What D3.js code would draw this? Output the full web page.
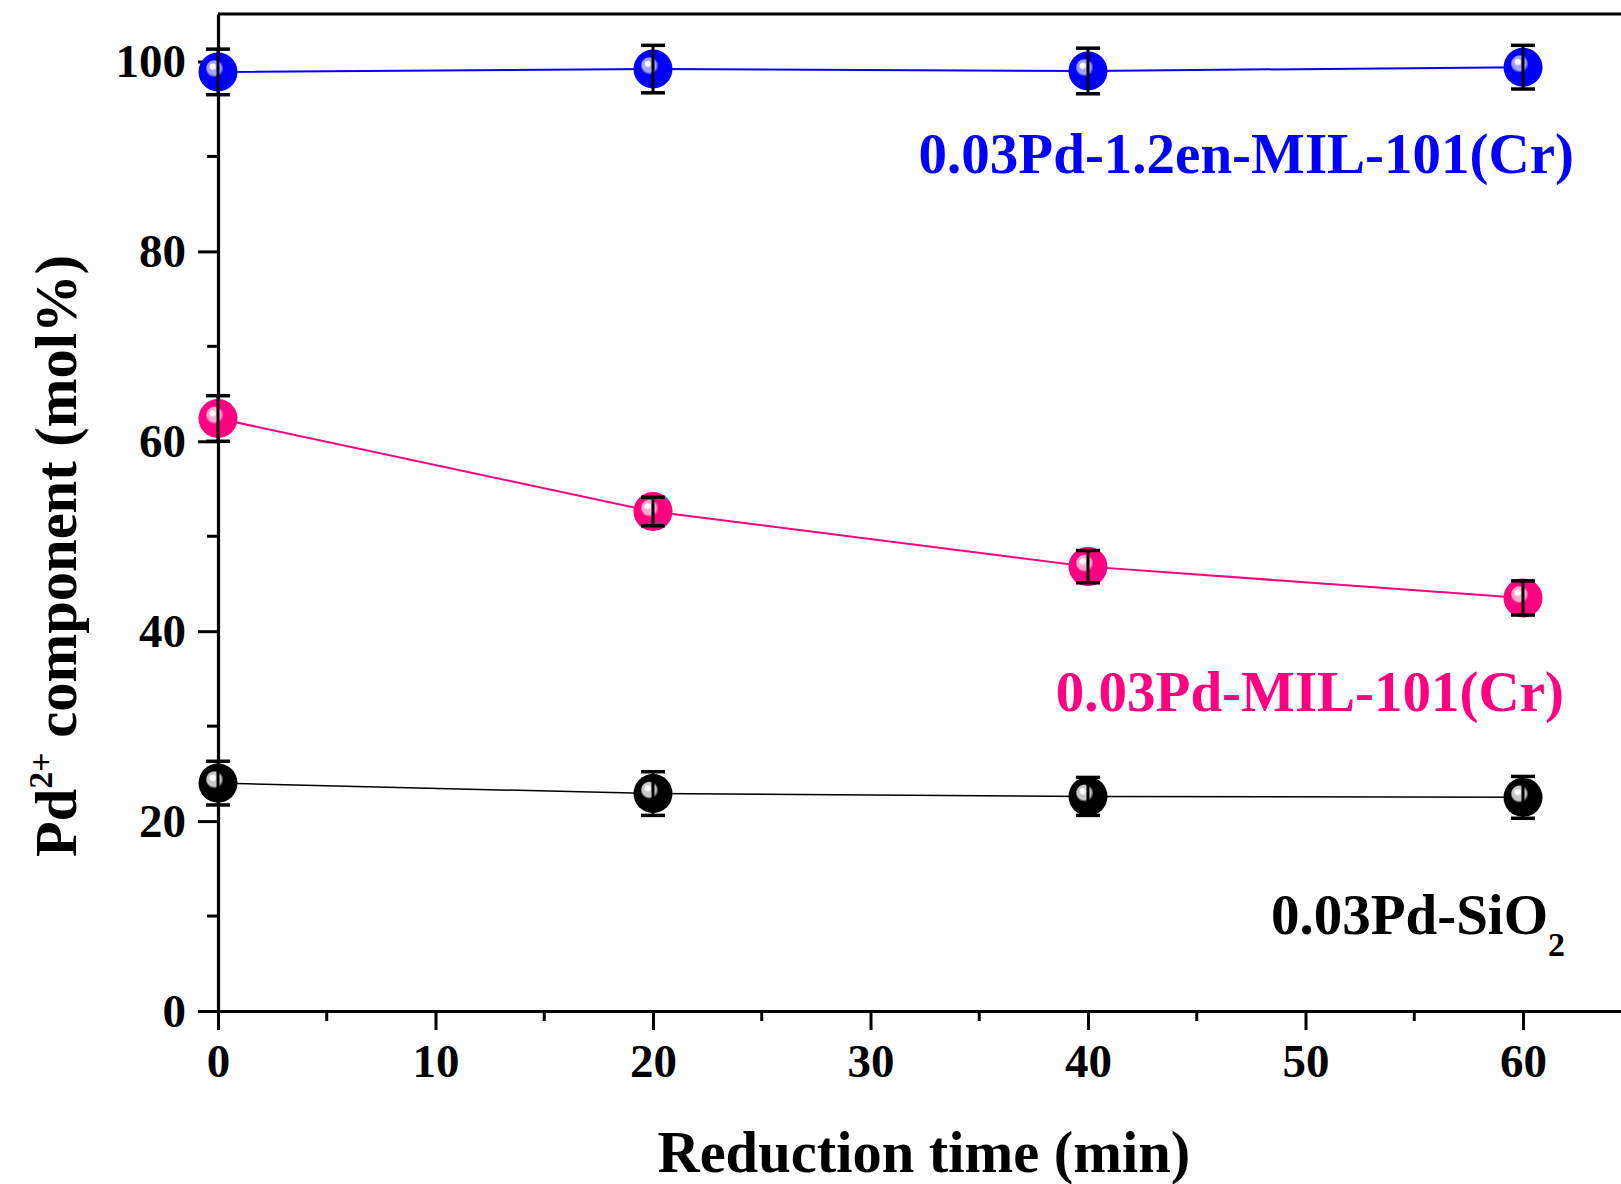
<!DOCTYPE html>
<html>
<head>
<meta charset="utf-8">
<script src="https://cdn.jsdelivr.net/npm/d3@7"></script>
<style>
    body { margin: 0; background: #fff; }
    text { font-family: "Liberation Serif", "Times New Roman", serif; font-weight: bold; }
</style>
</head>
<body>
<div id="chart"></div>
<script>
// reduction times (min)
const times = [0, 20, 40, 60];

// Pd2+ component (mol%) per sample, with error bars
const enMilValues = [98.9, 99.2, 99.0, 99.4];
const enMilErrors = [2.4, 2.5, 2.4, 2.3];
const milValues = [62.4, 52.6, 46.8, 43.5];
const milErrors = [2.4, 1.5, 1.7, 1.8];
const sio2Values = [24.0, 22.9, 22.6, 22.5];
const sio2Errors = [2.3, 2.3, 2.0, 2.2];

const xTicks = [0, 10, 20, 30, 40, 50, 60];
const yTicks = [0, 20, 40, 60, 80, 100];

const series = [
    {name: "sio2", color: "#000000", light: "#c8c8c8", values: sio2Values, errors: sio2Errors},
    {name: "mil", color: "#ff0080", light: "#ffa8d2", values: milValues, errors: milErrors},
    {name: "enmil", color: "#0000ff", light: "#a0a0ff", values: enMilValues, errors: enMilErrors}
];

const W = 1621, H = 1184;
const margin = {top: 14, left: 218, bottom: 173};

const svg = d3.select("#chart").append("svg")
    .attr("width", W)
    .attr("height", H);

// scales
const x = d3.scaleLinear().domain([0, 65]).range([margin.left, margin.left + 6.5 * 217.5]);
const y = d3.scaleLinear().domain([0, 105]).range([H - margin.bottom, margin.top]);

// ball gradients
const defs = svg.append("defs");
series.forEach(s => {
    const g = defs.append("radialGradient")
        .attr("id", "ball-" + s.name)
        .attr("cx", "0.5").attr("cy", "0.5").attr("r", "0.5")
        .attr("fx", "0.34").attr("fy", "0.34");
    g.append("stop").attr("offset", "0").attr("stop-color", "#ffffff");
    g.append("stop").attr("offset", "0.12").attr("stop-color", "#ffffff");
    g.append("stop").attr("offset", "0.2").attr("stop-color", s.light);
    g.append("stop").attr("offset", "0.36").attr("stop-color", s.light);
    g.append("stop").attr("offset", "0.46").attr("stop-color", s.color);
    g.append("stop").attr("offset", "1").attr("stop-color", s.color);
});

// axes
const xAxis = d3.axisBottom(x).tickValues(xTicks).tickSize(19).tickSizeOuter(0).tickPadding(14).tickFormat(d3.format("d"));
const yAxis = d3.axisLeft(y).tickValues(yTicks).tickSize(20).tickSizeOuter(0).tickPadding(12).tickFormat(d3.format("d"));

const gx = svg.append("g")
    .attr("transform", "translate(0," + y(0) + ")")
    .call(xAxis);
const gy = svg.append("g")
    .attr("transform", "translate(" + x(0) + ",0)")
    .call(yAxis);

// minor ticks
svg.append("g").selectAll("line")
    .data(d3.range(5, 65, 10))
    .join("line")
    .attr("x1", d => x(d)).attr("x2", d => x(d))
    .attr("y1", y(0)).attr("y2", y(0) + 10)
    .attr("stroke", "#000").attr("stroke-width", 3);
svg.append("g").selectAll("line")
    .data(d3.range(10, 105, 20))
    .join("line")
    .attr("x1", x(0) - 11).attr("x2", x(0))
    .attr("y1", d => y(d)).attr("y2", d => y(d))
    .attr("stroke", "#000").attr("stroke-width", 3);

[gx, gy].forEach(g => {
    g.select(".domain").attr("stroke-width", 3.2);
    g.selectAll(".tick line").attr("stroke-width", 3);
    g.selectAll(".tick text")
        .attr("fill", "#000")
        .style("font-size", "47px")
        .style("font-family", "'Liberation Serif', 'Times New Roman', serif")
        .style("font-weight", "bold");
});
gy.selectAll(".tick text").attr("dy", "0.33em");

// top frame line
svg.append("line")
    .attr("x1", x(0)).attr("x2", x(65))
    .attr("y1", y(105)).attr("y2", y(105))
    .attr("stroke", "#000").attr("stroke-width", 3.2);

// lines
const line = d3.line()
    .x((d, i) => x(times[i]))
    .y(d => y(d));

series.forEach(s => {
    svg.append("path")
        .datum(s.values)
        .attr("fill", "none")
        .attr("stroke", s.color)
        .attr("stroke-width", s.name === "sio2" ? 1.5 : 2)
        .attr("d", line);
});

// balls + error bars
series.forEach(s => {
    const g = svg.append("g");
    g.selectAll("circle")
        .data(s.values)
        .join("circle")
        .attr("cx", (d, i) => x(times[i]))
        .attr("cy", d => y(d))
        .attr("r", 19.5)
        .attr("fill", "url(#ball-" + s.name + ")");

    const eb = g.selectAll("g.err")
        .data(s.values.map((v, i) => ({t: times[i], v: v, e: s.errors[i]})))
        .join("g");
    eb.append("line")
        .attr("x1", d => x(d.t)).attr("x2", d => x(d.t))
        .attr("y1", d => y(d.v - d.e)).attr("y2", d => y(d.v + d.e))
        .attr("stroke", "#000").attr("stroke-width", 3);
    [-1, 1].forEach(sign => {
        eb.append("line")
            .attr("x1", d => x(d.t) - 12).attr("x2", d => x(d.t) + 12)
            .attr("y1", d => y(d.v + sign * d.e)).attr("y2", d => y(d.v + sign * d.e))
            .attr("stroke", "#000").attr("stroke-width", 3.5);
    });
});

// series labels
svg.append("text")
    .attr("x", 1574).attr("y", 173)
    .attr("text-anchor", "end")
    .attr("fill", "#0000ff")
    .style("font-size", "57px")
    .text("0.03Pd-1.2en-MIL-101(Cr)");

svg.append("text")
    .attr("x", 1564).attr("y", 711)
    .attr("text-anchor", "end")
    .attr("fill", "#ff0080")
    .style("font-size", "57px")
    .text("0.03Pd-MIL-101(Cr)");

const sio2Label = svg.append("text")
    .attr("x", 1565).attr("y", 934)
    .attr("text-anchor", "end")
    .attr("fill", "#000")
    .style("font-size", "57px");
sio2Label.append("tspan").text("0.03Pd-SiO");
sio2Label.append("tspan").attr("dy", 22).style("font-size", "34px").text("2");

// axis titles
svg.append("text")
    .attr("x", (x(0) + x(65)) / 2 - 1).attr("y", 1172)
    .attr("text-anchor", "middle")
    .style("font-size", "58.5px")
    .text("Reduction time (min)");

const yTitle = svg.append("text")
    .attr("transform", "translate(76," + 556 + ") rotate(-90)")
    .attr("text-anchor", "middle")
    .style("font-size", "58.5px");
yTitle.append("tspan").text("Pd");
yTitle.append("tspan").attr("dy", -24).style("font-size", "34px").text("2+");
yTitle.append("tspan").attr("dy", 24).text(" component (mol%)");
</script>
</body>
</html>
